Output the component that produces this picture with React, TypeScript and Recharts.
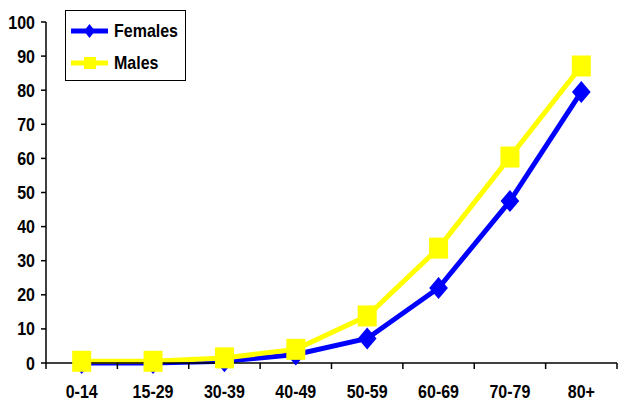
import React from "react";
import { LineChart, Line, XAxis, YAxis } from "recharts";

const ageGroups = ["0-14", "15-29", "30-39", "40-49", "50-59", "60-69", "70-79", "80+"];
const females = [0, 0, 0.5, 2.5, 7.2, 22, 47.5, 79.5];
const males = [0.5, 0.5, 1.5, 4, 13.8, 33.7, 60.4, 87.1];
const yTicks = [0, 10, 20, 30, 40, 50, 60, 70, 80, 90, 100];

const data = ageGroups.map((g, i) => ({ group: g, Females: females[i], Males: males[i] }));

const BLUE = "#0000FF";
const YELLOW = "#FFFF00";
const FONT = "'Liberation Sans', Arial, sans-serif";
const STRETCH = 1.15;

const W = 618;
const H = 401;
const LEFT = 46;
const RIGHT = 1;
const BAND = (W - LEFT - RIGHT) / ageGroups.length;

const Diamond = (props: any) => {
  const { cx, cy } = props;
  if (cx == null || cy == null) return null;
  const r = 11;
  return (
    <path
      d={`M${cx},${cy - r} L${cx + r * 0.85},${cy} L${cx},${cy + r} L${cx - r * 0.85},${cy} Z`}
      fill={BLUE}
    />
  );
};

const Square = (props: any) => {
  const { cx, cy } = props;
  if (cx == null || cy == null) return null;
  return <rect x={cx - 9.5} y={cy - 10.5} width={19} height={21} fill={YELLOW} />;
};

const Label = ({ x, y, anchor, children }: any) => (
  <text
    transform={`translate(${x},${y}) scale(1,${STRETCH})`}
    textAnchor={anchor}
    fontFamily={FONT}
    fontWeight="bold"
    fontSize={16}
    fill="#000"
  >
    {children}
  </text>
);

const XTick = (props: any) => {
  const { x, y, payload, index } = props;
  const axisY = y - 8;
  const last = index === ageGroups.length - 1;
  return (
    <g>
      <line x1={x - BAND / 2} x2={x - BAND / 2} y1={axisY} y2={axisY + 6} stroke="#000" strokeWidth={1.5} />
      {last && (
        <line x1={x + BAND / 2} x2={x + BAND / 2} y1={axisY} y2={axisY + 6} stroke="#000" strokeWidth={1.5} />
      )}
      <Label x={x} y={y + 27} anchor="middle">{payload.value}</Label>
    </g>
  );
};

const YTick = (props: any) => {
  const { x, y, payload } = props;
  return <Label x={x} y={y + 6.5} anchor="end">{payload.value}</Label>;
};

const LegendBox = () => (
  <div
    style={{
      position: "absolute",
      left: 65,
      top: 10,
      border: "1px solid #000",
      background: "#fff",
      width: 121,
      height: 71,
      boxSizing: "border-box",
    }}
  >
    <svg width={121} height={71} style={{ position: "absolute", left: -1, top: -1 }}>
      <line x1={6} x2={43} y1={21} y2={21} stroke={BLUE} strokeWidth={5} />
      <path d="M24.5,14 L30,21 L24.5,28 L19,21 Z" fill={BLUE} />
      <line x1={6} x2={43} y1={53} y2={53} stroke={YELLOW} strokeWidth={5} />
      <rect x={19} y={47} width={12} height={12} fill={YELLOW} />
      <Label x={49} y={27} anchor="start">Females</Label>
      <Label x={49} y={59} anchor="start">Males</Label>
    </svg>
  </div>
);

export default function App() {
  return (
    <div style={{ position: "absolute", left: 0, top: 0, width: W, height: H, background: "#fff" }}>
      <LineChart width={W} height={H} data={data} margin={{ top: 22, right: RIGHT, bottom: 0, left: 0 }}>
        <XAxis
          dataKey="group"
          scale="band"
          height={38}
          tickLine={false}
          tick={<XTick />}
          interval={0}
          axisLine={{ stroke: "#000", strokeWidth: 1.5 }}
        />
        <YAxis
          width={LEFT}
          domain={[0, 100]}
          ticks={yTicks}
          interval={0}
          tickSize={5}
          tickMargin={6}
          axisLine={{ stroke: "#000", strokeWidth: 1.5 }}
          tickLine={{ stroke: "#000", strokeWidth: 1.5 }}
          tick={<YTick />}
        />
        <Line
          type="linear"
          dataKey="Females"
          stroke={BLUE}
          strokeWidth={5}
          dot={<Diamond />}
          activeDot={false}
          isAnimationActive={false}
        />
        <Line
          type="linear"
          dataKey="Males"
          stroke={YELLOW}
          strokeWidth={5}
          dot={<Square />}
          activeDot={false}
          isAnimationActive={false}
        />
      </LineChart>
      <LegendBox />
    </div>
  );
}
